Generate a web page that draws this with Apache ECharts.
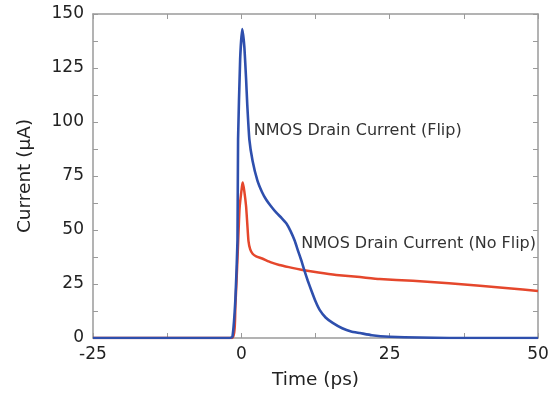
<!DOCTYPE html>
<html>
<head>
<meta charset="utf-8">
<script src="https://cdn.jsdelivr.net/npm/echarts@6/dist/echarts.min.js"></script>
<style>
html,body{margin:0;padding:0;background:#fff;}
#chart{width:558px;height:401px;}
</style>
</head>
<body>
<div id="chart"></div>
<script>
// 时间 (ps) 与电流 (µA)
var timeFlip = [-25, -10, -2, -1.5, -1.0, -0.65, -0.55, -0.2, 0.15, 0.5, 0.8, 1.0, 1.35, 1.9, 2.7, 3.5, 4.2, 5.0, 5.9, 6.8, 7.6, 8.3, 9.0, 9.6, 10.1, 10.6, 11.2, 11.8, 12.5, 13.2, 14.2, 15.4, 17, 18.5, 20, 22, 25, 30, 35, 50];
var currentFlip = [0, 0, 0, 0.5, 18, 45, 92, 129, 143, 135, 120, 108, 92, 82, 73, 67.5, 64, 61, 58, 55.5, 53, 49.5, 45, 40, 36, 31.5, 26.5, 22, 17, 13, 9.5, 7, 4.5, 3, 2.3, 1.3, 0.6, 0.2, 0, 0];
var timeNoFlip = [-25, -10, -1.5, -1.0, -0.6, -0.3, 0.1, 0.25, 0.5, 0.8, 1.0, 1.2, 1.5, 1.9, 2.5, 3.5, 5, 6.4, 8, 10.3, 13, 16, 20, 23.3, 28.9, 35, 40.2, 45, 50];
var currentNoFlip = [0, 0, 0, 15, 40, 60, 70, 72, 68, 61, 53, 45, 41, 39, 37.8, 36.8, 35, 33.8, 32.8, 31.5, 30.3, 29.2, 28.2, 27.3, 26.5, 25.3, 24.2, 23, 21.8];
var labelFlip = 'NMOS Drain Current (Flip)';
var labelNoFlip = 'NMOS Drain Current (No Flip)';

function pairs(xs, ys){
	var out = [];
	xs.forEach(function(x, i){ out.push([x, ys[i]]); });
	return out;
}

var axisColor = '#9a9a9a';
var textColor = '#222';
var font = 'DejaVu Sans';
var frameAxis = {
	axisLine: {show: true, onZero: false, lineStyle: {color: axisColor, width: 1.5}},
	axisTick: {show: true, inside: true, length: 5, lineStyle: {color: axisColor}},
	minorTick: {show: true, splitNumber: 2, length: 5, lineStyle: {color: axisColor}},
	splitLine: {show: false}
};
function ax(extra){ return Object.assign({}, frameAxis, extra); }

var myChart = echarts.init(document.getElementById('chart'));
var option = {
	animation: false,
	grid: {left: 93, right: 20, top: 14, bottom: 63},
	xAxis: [
		ax({
			type: 'value', min: -25, max: 50, interval: 25,
			name: 'Time (ps)', nameLocation: 'middle', nameGap: 33,
			nameTextStyle: {fontFamily: font, fontSize: 18.5, color: textColor},
			axisLabel: {fontFamily: font, fontSize: 17, color: textColor, margin: 8}
		}),
		ax({type: 'value', position: 'top', min: -25, max: 50, interval: 25, axisLabel: {show: false}})
	],
	yAxis: [
		ax({
			type: 'value', min: 0, max: 150, interval: 25,
			name: 'Current (µA)', nameLocation: 'middle', nameGap: 58,
			nameTextStyle: {fontFamily: font, fontSize: 18.5, color: textColor},
			axisLabel: {fontFamily: font, fontSize: 17, color: textColor, margin: 9}
		}),
		ax({type: 'value', position: 'right', min: 0, max: 150, interval: 25, axisLabel: {show: false}})
	],
	series: [
		{
			name: labelNoFlip, type: 'line', data: pairs(timeNoFlip, currentNoFlip),
			showSymbol: false, smooth: 0.15,
			lineStyle: {color: '#e5472c', width: 2.5, join: 'round'}, z: 2,
			markPoint: {
				symbol: 'circle', symbolSize: 0,
				data: [{coord: [10.1, 43.5]}],
				label: {show: true, position: 'right', distance: 0, formatter: labelNoFlip,
					fontFamily: font, fontSize: 16, color: '#333'}
			}
		},
		{
			name: labelFlip, type: 'line', data: pairs(timeFlip, currentFlip),
			showSymbol: false, smooth: 0.15,
			lineStyle: {color: '#2e4fad', width: 2.6, join: 'round'}, z: 3,
			markPoint: {
				symbol: 'circle', symbolSize: 0,
				data: [{coord: [2.1, 96]}],
				label: {show: true, position: 'right', distance: 0, formatter: labelFlip,
					fontFamily: font, fontSize: 16, color: '#333'}
			}
		}
	]
};
myChart.setOption(option);
</script>
</body>
</html>
